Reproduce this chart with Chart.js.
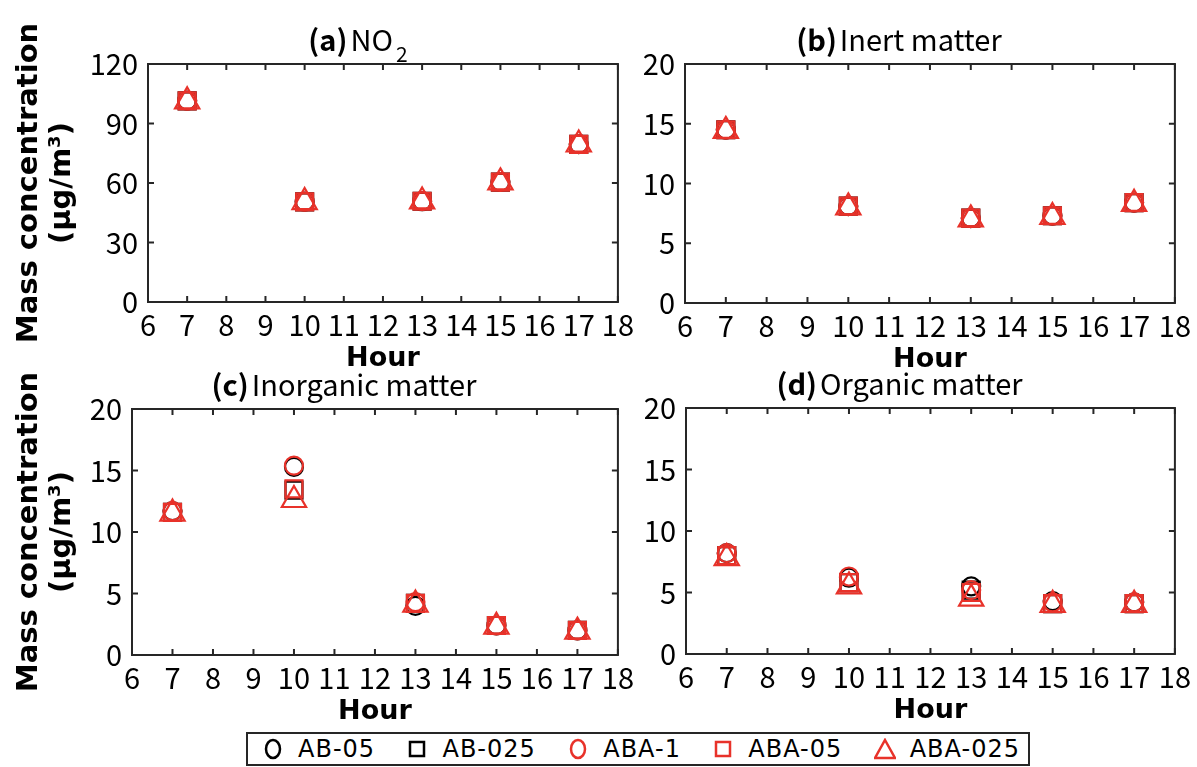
<!DOCTYPE html>
<html>
<head>
<meta charset="utf-8">
<title>Mass concentration by hour</title>
<script src="https://cdn.jsdelivr.net/npm/chart.js@4.4.1/dist/chart.umd.min.js"></script>
<style>
  html, body { margin: 0; padding: 0; background: #fff; }
  body { width: 1197px; height: 767px; position: relative; overflow: hidden; }
  .panel { position: absolute; }
  #legend {
    position: absolute; left: 246px; top: 732px; width: 784px; height: 34px;
    box-sizing: border-box; border: 2px solid #262626;
    display: flex; align-items: center; justify-content: space-between;
    padding: 0 8px 0 14px;
    font-family: 'DejaVu Sans', sans-serif; font-size: 24px; letter-spacing: 1px; color: #000;
  }
  #legend .item { display: flex; align-items: center; flex: none; white-space: nowrap; }
  #legend svg { margin-right: 14px; flex: none; }
</style>
</head>
<body>
<div class="panel" style="left:0;top:0;width:640px;height:374px"><canvas id="chartA"></canvas></div>
<div class="panel" style="left:640px;top:0;width:557px;height:375px"><canvas id="chartB"></canvas></div>
<div class="panel" style="left:0;top:345px;width:640px;height:382px"><canvas id="chartC"></canvas></div>
<div class="panel" style="left:640px;top:344px;width:557px;height:382px"><canvas id="chartD"></canvas></div>
<div id="legend"></div>
<script>
// data
const hours = [7, 10, 13, 15, 17];
const hourTicks = [6, 7, 8, 9, 10, 11, 12, 13, 14, 15, 16, 17, 18];
const no2Ticks = [0, 30, 60, 90, 120];
const massTicks = [0, 5, 10, 15, 20];
const seriesNames = ['AB-05', 'AB-025', 'ABA-1', 'ABA-05', 'ABA-025'];

// rows follow seriesNames
const no2Values = [
  [101.5, 50.6, 50.8, 60.5, 79.6],
  [101.4, 50.5, 50.8, 60.4, 79.5],
  [101.5, 50.6, 50.9, 60.5, 79.6],
  [101.4, 50.5, 50.8, 60.4, 79.5],
  [101.2, 50.4, 50.7, 60.3, 79.4]
];
const inertValues = [
  [14.5, 8.1, 7.1, 7.3, 8.4],
  [14.5, 8.1, 7.1, 7.3, 8.4],
  [14.5, 8.1, 7.1, 7.3, 8.4],
  [14.5, 8.1, 7.1, 7.3, 8.4],
  [14.4, 8.0, 7.0, 7.2, 8.3]
];
const inorganicValues = [
  [11.7, 15.3, 4.0, 2.4, 2.0],
  [11.6, 13.4, 4.2, 2.4, 2.0],
  [11.7, 15.4, 4.3, 2.4, 2.0],
  [11.6, 13.5, 4.2, 2.4, 2.0],
  [11.5, 12.6, 4.1, 2.3, 1.9]
];
const organicValues = [
  [8.2, 6.2, 5.5, 4.3, 4.2],
  [8.0, 5.8, 5.2, 4.1, 4.1],
  [8.2, 6.3, 5.2, 4.2, 4.2],
  [8.0, 5.8, 5.0, 4.1, 4.1],
  [7.8, 5.5, 4.5, 4.0, 4.0]
];

const tickFont = "'Noto Sans CJK JP', 'Noto Sans', sans-serif";
const labelFont = "'DejaVu Sans', sans-serif";
const axisColor = '#262626';
const red = '#e8322a';

const seriesStyle = [
  { color: '#000', shape: 'circle', radius: 9 },
  { color: '#000', shape: 'rect', radius: 12 },
  { color: red, shape: 'circle', radius: 9 },
  { color: red, shape: 'rect', radius: 12 },
  { color: red, shape: 'triangle', radius: 14 }
];

// box round the plot area with inward ticks on all sides
const boxPlugin = {
  id: 'boxTicks',
  beforeDatasetsDraw(chart) {
    const { ctx, chartArea: a, scales } = chart;
    const len = 6;
    ctx.save();
    ctx.strokeStyle = axisColor;
    ctx.lineWidth = 2;
    ctx.strokeRect(a.left, a.top, a.right - a.left, a.bottom - a.top);
    ctx.beginPath();
    scales.x.ticks.forEach(t => {
      const px = scales.x.getPixelForValue(t.value);
      ctx.moveTo(px, a.bottom); ctx.lineTo(px, a.bottom - len);
      ctx.moveTo(px, a.top); ctx.lineTo(px, a.top + len);
    });
    scales.y.ticks.forEach(t => {
      const py = scales.y.getPixelForValue(t.value);
      ctx.moveTo(a.left, py); ctx.lineTo(a.left + len, py);
      ctx.moveTo(a.right, py); ctx.lineTo(a.right - len, py);
    });
    ctx.stroke();
    ctx.restore();
  }
};

// panel title: bold letter, then name, optional subscript
const titlePlugin = {
  id: 'panelTitle',
  afterDraw(chart, args, o) {
    const { ctx, chartArea: a } = chart;
    ctx.save();
    ctx.fillStyle = '#000';
    ctx.textBaseline = 'alphabetic';
    ctx.textAlign = 'left';
    const fBold = `bold 29px ${tickFont}`;
    const fText = `29px ${tickFont}`;
    const fSub = `21px ${tickFont}`;
    ctx.font = fBold; const w1 = ctx.measureText(o.label).width;
    ctx.font = fText; const w2 = ctx.measureText(o.text).width;
    ctx.font = fSub; const w3 = o.sub ? ctx.measureText(o.sub).width + 3 : 0;
    const gap = 3;
    let x = (a.left + a.right) / 2 + o.shift - (w1 + gap + w2 + w3) / 2;
    const y = a.top - 13;
    ctx.font = fBold; ctx.fillText(o.label, x, y); x += w1 + gap;
    ctx.font = fText; ctx.fillText(o.text, x, y); x += w2 + 3;
    if (o.sub) { ctx.font = fSub; ctx.fillText(o.sub, x, y + 11); }
    ctx.restore();
  }
};

function makePanel(id, p) {
  const datasets = seriesNames.map((name, i) => ({
    label: name,
    data: hours.map((h, j) => ({ x: h, y: p.values[i][j] })),
    pointStyle: seriesStyle[i].shape,
    pointRadius: seriesStyle[i].radius,
    pointHoverRadius: seriesStyle[i].radius,
    pointBorderColor: seriesStyle[i].color,
    pointBackgroundColor: 'rgba(0,0,0,0)',
    pointBorderWidth: 2.2,
    borderColor: seriesStyle[i].color,
    order: seriesNames.length - i,
    showLine: false
  }));
  return new Chart(document.getElementById(id), {
    type: 'scatter',
    data: { datasets },
    options: {
      responsive: true,
      maintainAspectRatio: false,
      animation: false,
      layout: { padding: { top: 64, right: p.padRight, left: 0, bottom: 0 } },
      plugins: {
        legend: { display: false },
        tooltip: { enabled: false },
        panelTitle: { label: p.label, text: p.title, sub: p.sub, shift: p.shift }
      },
      scales: {
        x: {
          type: 'linear',
          min: hourTicks[0],
          max: hourTicks[hourTicks.length - 1],
          afterBuildTicks: s => { s.ticks = hourTicks.map(v => ({ value: v })); },
          afterFit: s => { s.height = 72; },
          grid: { display: false, drawTicks: false },
          border: { display: false },
          ticks: { color: '#000', autoSkip: false, maxRotation: 0, padding: 6,
                   font: { family: tickFont, size: 29, lineHeight: 1.2 } },
          title: { display: true, text: 'Hour', color: '#000',
                   font: { family: labelFont, size: 27, weight: 'bold', lineHeight: 1 },
                   padding: { top: 0, bottom: 2 } }
        },
        y: {
          min: p.yTicks[0],
          max: p.yTicks[p.yTicks.length - 1],
          afterBuildTicks: s => { s.ticks = p.yTicks.map(v => ({ value: v })); },
          afterFit: s => { s.width = p.yWidth; },
          grid: { display: false, drawTicks: false },
          border: { display: false },
          ticks: { color: '#000', padding: 10,
                   font: { family: tickFont, size: 29, lineHeight: 1.2 } },
          title: { display: p.yTitle, text: ['Mass concentration', '(μg/m³)'], color: '#000',
                   font: { family: labelFont, size: 29, weight: 'bold', lineHeight: 1.14 },
                   padding: { top: 13, bottom: 0 } }
        }
      }
    },
    plugins: [boxPlugin, titlePlugin]
  });
}

makePanel('chartA', { values: no2Values, yTicks: no2Ticks, yWidth: 148, padRight: 17, yTitle: true,
  label: '(a)', title: 'NO', sub: '2', shift: -25 });
makePanel('chartB', { values: inertValues, yTicks: massTicks, yWidth: 45, padRight: 19, yTitle: false,
  label: '(b)', title: 'Inert matter', shift: -31 });
makePanel('chartC', { values: inorganicValues, yTicks: massTicks, yWidth: 132, padRight: 15, yTitle: true,
  label: '(c)', title: 'Inorganic matter', shift: -31 });
makePanel('chartD', { values: organicValues, yTicks: massTicks, yWidth: 46, padRight: 19, yTitle: false,
  label: '(d)', title: 'Organic matter', shift: -31 });

// legend
const legend = document.getElementById('legend');
seriesNames.forEach((name, i) => {
  const st = seriesStyle[i];
  let shape;
  if (st.shape === 'circle') shape = `<ellipse cx="11" cy="11" rx="7" ry="9" fill="none" stroke="${st.color}" stroke-width="2.5"/>`;
  else if (st.shape === 'rect') shape = `<rect x="4" y="4" width="14" height="14" fill="none" stroke="${st.color}" stroke-width="2.5"/>`;
  else shape = `<polygon points="11,2 21,20 1,20" fill="none" stroke="${st.color}" stroke-width="2.5"/>`;
  const item = document.createElement('div');
  item.className = 'item';
  item.innerHTML = `<svg width="22" height="22">${shape}</svg><span>${name}</span>`;
  legend.appendChild(item);
});
</script>
</body>
</html>
